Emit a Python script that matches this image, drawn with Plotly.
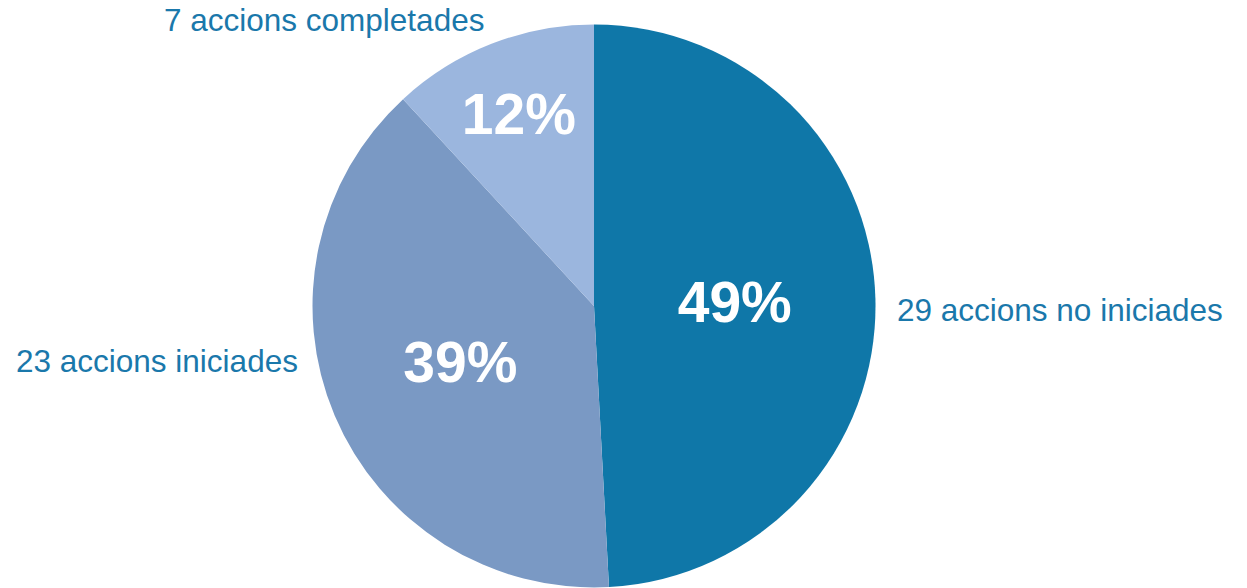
import plotly.graph_objects as go

categories = ["no iniciades", "iniciades", "completades"]
counts = [29, 23, 7]
outside_labels = ["29 accions no iniciades", "23 accions iniciades", "7 accions completades"]
colors = ["#0f77a8", "#7a99c4", "#9bb6de"]

W, H = 1247, 588
cx, top, r = 594, 24.5, 281.5
dom_x = [(cx - r) / W, (cx + r) / W]
dom_y = [max(0.0, 1 - (top + 2 * r) / H), 1 - top / H]

fig = go.Figure()
fig.add_trace(go.Pie(
    labels=categories, values=counts, sort=False, direction="clockwise", rotation=0,
    marker=dict(colors=colors, line=dict(width=0)),
    texttemplate="%{percent:.0%}", textposition="inside", insidetextorientation="horizontal",
    textfont=dict(family="Liberation Sans, Arial, sans-serif", size=57, color="white", weight="bold"),
    domain=dict(x=dom_x, y=dom_y), showlegend=False, hoverinfo="skip",
))

label_font = dict(family="Liberation Sans, Arial, sans-serif", size=31.5, color="#1a78ab")
label_pos = [
    dict(x=895 / W, y=1 - 310 / H, xanchor="left"),
    dict(x=300 / W, y=1 - 361 / H, xanchor="right"),
    dict(x=162 / W, y=1 - 20 / H, xanchor="left"),
]
for txt, pos in zip(outside_labels, label_pos):
    fig.add_annotation(text=txt, xref="paper", yref="paper", showarrow=False,
                       yanchor="middle", font=label_font, **pos)

fig.update_layout(
    width=W, height=H, margin=dict(l=0, r=0, t=0, b=0),
    paper_bgcolor="white", plot_bgcolor="white",
)
fig.write_html("out.html")
